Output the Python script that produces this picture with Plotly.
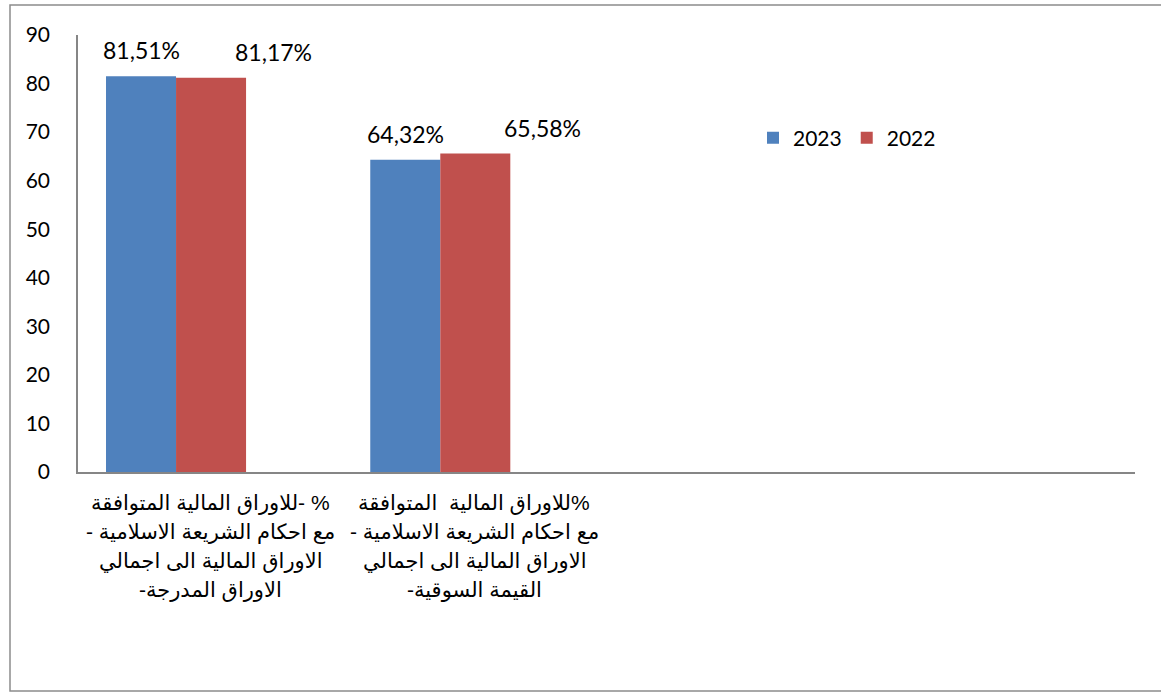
import plotly.graph_objects as go

# ---- data ----
series_names = ["2023", "2022"]
values_2023 = [81.51, 64.32]
values_2022 = [81.17, 65.58]
category_lines = [
    ["% -للاوراق المالية المتوافقة",
     "مع احكام الشريعة الاسلامية -",
     "الاوراق المالية الى اجمالي",
     "الاوراق المدرجة-"],
    ["%للاوراق المالية  المتوافقة",
     "مع احكام الشريعة الاسلامية -",
     "الاوراق المالية الى اجمالي",
     "القيمة السوقية-"],
]
y_ticks = [0, 10, 20, 30, 40, 50, 60, 70, 80, 90]

# ---- style ----
blue = "#4F81BD"
red = "#C0504D"
axis_col = "#868686"
num_font = "Lato, Open Sans, sans-serif"
ar_font = "Liberation Sans, DejaVu Sans, sans-serif"

W, H = 1161, 695
ml, mr, mt, mb = 78, 26, 35, 223
plot_h = H - mt - mb

bar_w = 0.265
offsets = [-0.394, -0.129]
label_dx = [[0.0, 0.0], [0.235, 0.255]]
label_dy = 5.3

xs = list(range(len(category_lines)))

fig = go.Figure()
for k, (name, vals, col) in enumerate(zip(series_names, [values_2023, values_2022], [blue, red])):
    fig.add_trace(go.Bar(
        x=xs, y=vals, name=name, marker=dict(color=col, line=dict(width=0)),
        width=[bar_w] * len(xs), offset=[offsets[k]] * len(xs),
        hoverinfo="skip",
    ))

annotations = []
for k, vals in enumerate([values_2023, values_2022]):
    for i, v in enumerate(vals):
        annotations.append(dict(
            x=xs[i] + offsets[k] + bar_w / 2 + label_dx[k][i], y=v + label_dy,
            xref="x", yref="y", text=f"{v:.2f}%".replace(".", ","),
            showarrow=False, xanchor="center", yanchor="middle",
            font=dict(family=num_font, size=23, color="#000000"),
        ))

line_px = [503, 532, 561, 590]
RLM = "\u200F"
for i, lines in enumerate(category_lines):
    for j, t in enumerate(lines):
        annotations.append(dict(
            x=xs[i], y=(H - mb - line_px[j]) / plot_h, xref="x", yref="paper",
            text=RLM + t + RLM, showarrow=False, xanchor="center", yanchor="middle",
            font=dict(family=ar_font, size=21, color="#000000"),
        ))

fig.update_layout(
    width=W, height=H,
    margin=dict(l=ml, r=mr, t=mt, b=mb, pad=0),
    paper_bgcolor="white", plot_bgcolor="white",
    barmode="overlay",
    showlegend=True,
    legend=dict(orientation="h", x=(753 - ml) / (W - ml - mr), y=(H - mb - 138) / plot_h,
                xanchor="left", yanchor="middle",
                font=dict(family=num_font, size=21, color="#000000"),
                itemwidth=30, tracegroupgap=0, bgcolor="rgba(0,0,0,0)"),
    xaxis=dict(range=[-0.5, 3.5], showticklabels=False, showline=True, linecolor=axis_col,
               linewidth=1.5, showgrid=False, zeroline=False, ticks="", fixedrange=True),
    yaxis=dict(range=[0, 90], tickvals=y_ticks, showline=True, linecolor=axis_col,
               linewidth=1.5, showgrid=False, zeroline=False, ticks="",
               ticklabelstandoff=22,
               tickfont=dict(family=num_font, size=21, color="#000000")),
    annotations=annotations,
    shapes=[dict(type="rect", xref="paper", yref="paper",
                 x0=(10 - ml) / (W - ml - mr), x1=(1175 - ml) / (W - ml - mr),
                 y0=(H - mb - 691) / plot_h, y1=(H - mb - 5) / plot_h,
                 line=dict(color="#8c8c8c", width=1.5), layer="below")],
)

fig.write_html("out.html", config={"displayModeBar": False},
               post_script="document.body.style.margin='0px';")
